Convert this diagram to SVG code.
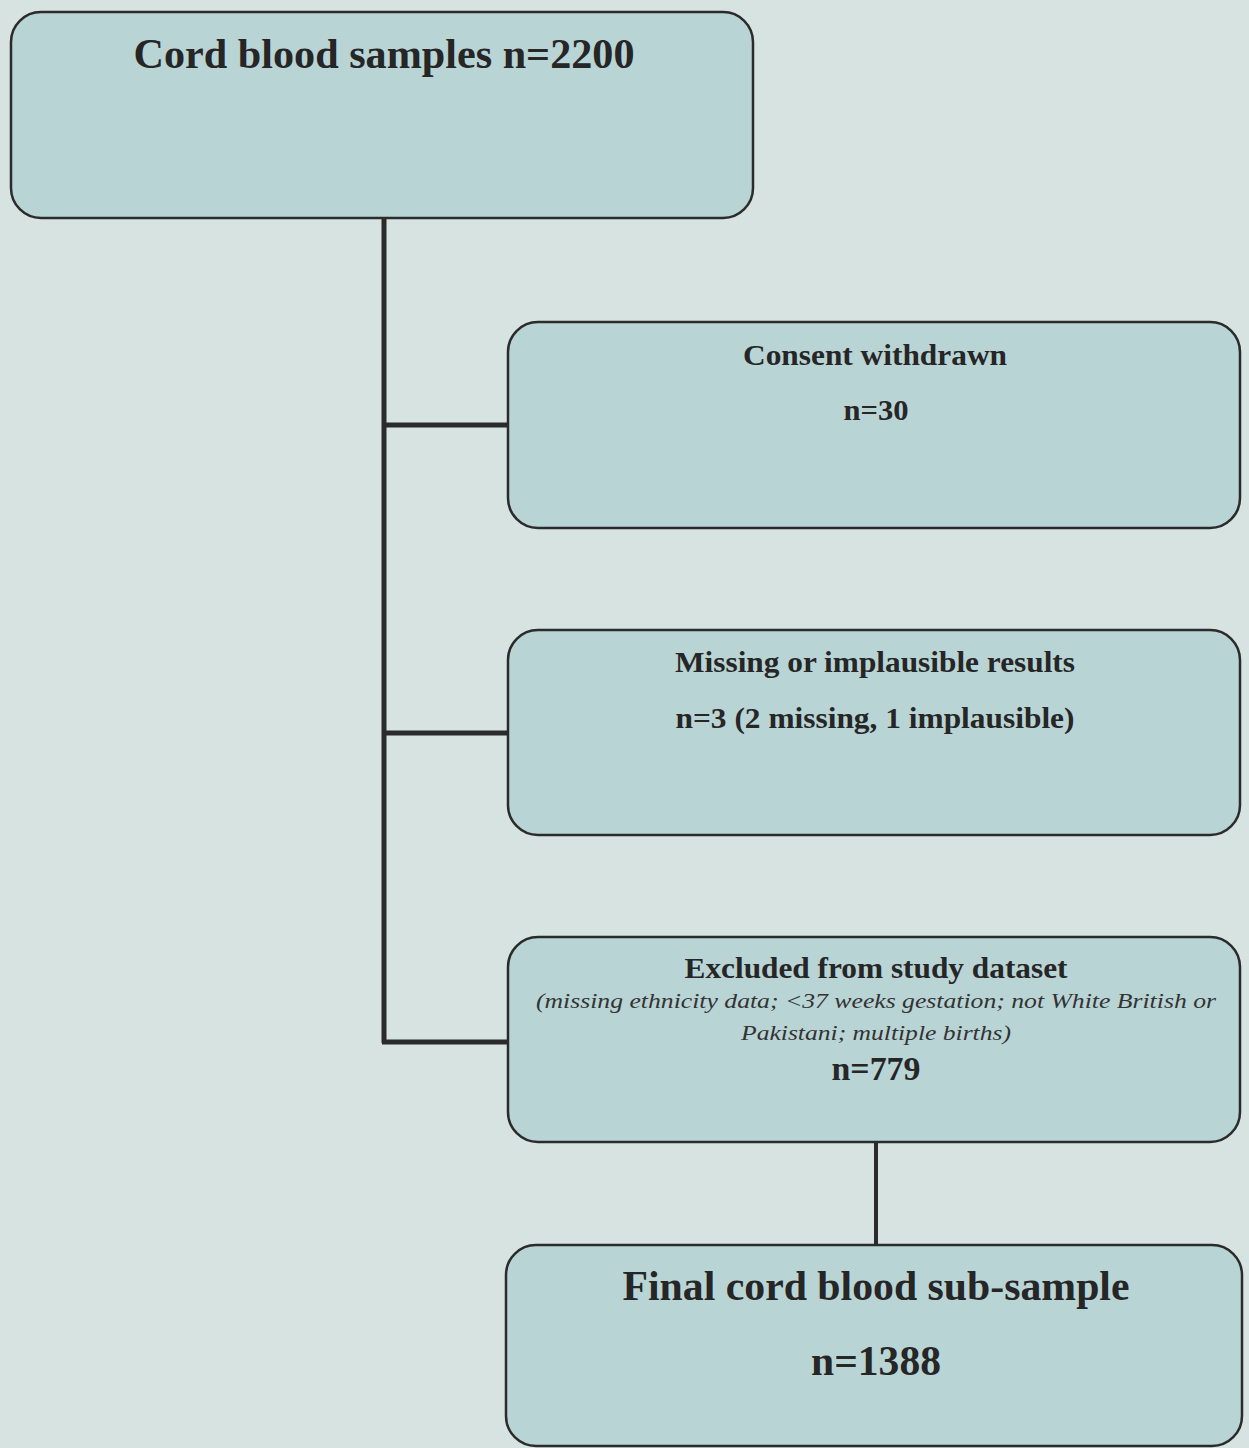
<svg xmlns="http://www.w3.org/2000/svg" width="1249" height="1448" viewBox="0 0 1249 1448">
<style>
.box{fill:#b9d4d5;stroke:#2b2b2b;stroke-width:2.5}
.t{font-family:"Liberation Serif","Times New Roman",serif;font-weight:bold;fill:#262626;text-anchor:middle}
.i{font-family:"Liberation Serif","Times New Roman",serif;font-style:italic;fill:#333;text-anchor:middle;font-size:21px}
.c{stroke:#2b2b2b;fill:none}
</style>
<rect width="1249" height="1448" fill="#d7e3e0"/>
<g id="connectors">
<path class="c" stroke-width="5" d="M384 218V1043M382 425H508M382 733H508M382 1042H508"/>
<path class="c" stroke-width="4" d="M876 1142V1245"/>
</g>
<g id="n1"><rect class="box" x="11" y="12" width="742" height="206" rx="30"/>
<text class="t" x="384" y="68" font-size="42" textLength="501" lengthAdjust="spacingAndGlyphs">Cord blood samples n=2200</text></g>
<g id="n2"><rect class="box" x="508" y="322" width="732" height="206" rx="30"/>
<text class="t" x="875" y="365" font-size="30" textLength="264" lengthAdjust="spacingAndGlyphs">Consent withdrawn</text>
<text class="t" x="876" y="420" font-size="30" textLength="65" lengthAdjust="spacingAndGlyphs">n=30</text></g>
<g id="n3"><rect class="box" x="508" y="630" width="732" height="205" rx="30"/>
<text class="t" x="875" y="672" font-size="30" textLength="400" lengthAdjust="spacingAndGlyphs">Missing or implausible results</text>
<text class="t" x="875" y="728" font-size="30" textLength="399" lengthAdjust="spacingAndGlyphs">n=3 (2 missing, 1 implausible)</text></g>
<g id="n4"><rect class="box" x="508" y="937" width="732" height="205" rx="30"/>
<text class="t" x="876" y="978" font-size="30" textLength="383" lengthAdjust="spacingAndGlyphs">Excluded from study dataset</text>
<text class="i" x="876" y="1008" textLength="680" lengthAdjust="spacingAndGlyphs">(missing ethnicity data; &lt;37 weeks gestation; not White British or</text>
<text class="i" x="876" y="1040" textLength="270" lengthAdjust="spacingAndGlyphs">Pakistani; multiple births)</text>
<text class="t" x="876" y="1080" font-size="34" textLength="89" lengthAdjust="spacingAndGlyphs">n=779</text></g>
<g id="n5"><rect class="box" x="506" y="1245" width="736" height="201" rx="30"/>
<text class="t" x="876" y="1300" font-size="42" textLength="507" lengthAdjust="spacingAndGlyphs">Final cord blood sub-sample</text>
<text class="t" x="876" y="1375" font-size="42" textLength="130" lengthAdjust="spacingAndGlyphs">n=1388</text></g>
</svg>
